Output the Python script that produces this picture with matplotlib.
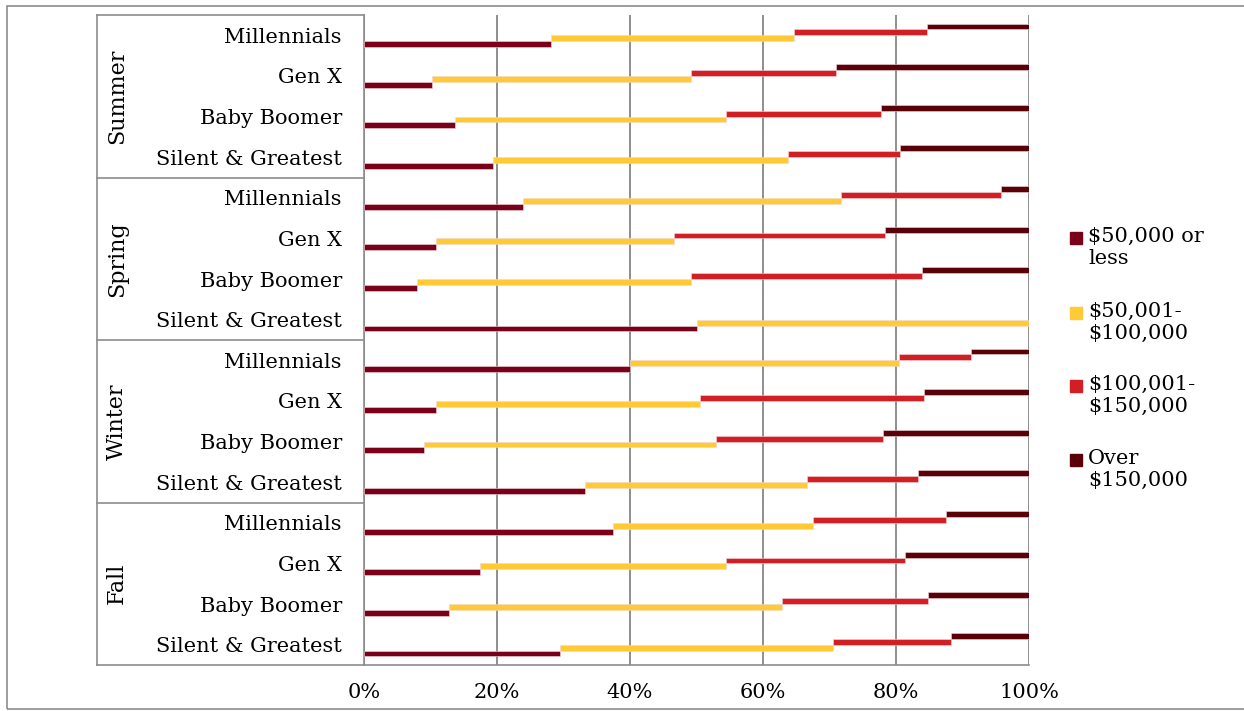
import matplotlib.pyplot as plt
from matplotlib.patches import Rectangle
from matplotlib.lines import Line2D
from matplotlib.transforms import blended_transform_factory
import numpy as np

plt.rcParams['font.family'] = ['DejaVu Serif']

# seasons and generations, top to bottom
seasons = ['Summer', 'Spring', 'Winter', 'Fall']
generations = ['Millennials', 'Gen X', 'Baby Boomer', 'Silent & Greatest']

# share of each income band (%) per season / generation row
under_50k = [28.1, 10.2, 13.7, 19.4,
             23.9, 10.8, 7.9, 50.0,
             40.0, 10.9, 9.0, 33.3,
             37.5, 17.5, 12.8, 29.4]
k50_100 = [36.6, 38.9, 40.8, 44.4,
           47.9, 35.8, 41.2, 50.0,
           40.5, 39.6, 44.0, 33.3,
           30.0, 37.0, 50.0, 41.2]
k100_150 = [20.0, 21.9, 23.3, 16.8,
            24.0, 31.8, 34.8, 0.0,
            10.8, 33.7, 25.0, 16.7,
            20.0, 26.9, 22.0, 17.6]
over_150k = [15.3, 29.0, 22.2, 19.4,
             4.2, 21.6, 16.1, 0.0,
             8.7, 15.8, 22.0, 16.7,
             12.5, 18.6, 15.2, 11.8]

series_names = ['\\$50,000 or\nless', '\\$50,001-\n\\$100,000',
                '\\$100,001-\n\\$150,000', 'Over\n\\$150,000']
colors = ['#7a0019', '#ffca33', '#d11f24', '#5a0009']
fs = 15

W, H = 1244, 711
fig = plt.figure(figsize=(W / 100, H / 100), dpi=100)
ax = fig.add_axes([364 / W, 1 - 665 / H, 665 / W, 650 / H])

n = len(under_50k)
pos = np.arange(n)
data = [under_50k, k50_100, k100_150, over_150k]
offsets = [0.217, 0.072, -0.072, -0.217]
left = np.zeros(n)
for vals, off, c in zip(data, offsets, colors):
    vals = np.array(vals)
    ax.barh(pos + off, vals, left=left, height=0.145, color=c,
            edgecolor='#f2d6da', linewidth=0.4, zorder=3)
    left = left + vals

ax.set_xlim(0, 100)
ax.set_ylim(n - 0.5, -0.5)
ax.set_xticks(np.arange(0, 101, 20))
ax.set_xticklabels([f'{v}%' for v in range(0, 101, 20)], fontsize=fs)
ax.tick_params(axis='x', length=0, pad=13)
ax.set_yticks(pos)
ax.set_yticklabels(generations * len(seasons), fontsize=fs)
ax.tick_params(axis='y', length=0, pad=16)
ax.grid(axis='x', color='#868686', linewidth=1.3, zorder=0)
for s in ['top', 'right']:
    ax.spines[s].set_visible(False)
for s in ['left', 'bottom']:
    ax.spines[s].set_color('#8c8c8c')
    ax.spines[s].set_linewidth(1.2)

# season group box to the left of the category labels
tr = blended_transform_factory(fig.transFigure, ax.transData)
x0, x1 = 97 / W, 364 / W
for b in np.arange(-0.5, n, 4):
    fig.add_artist(Line2D([x0, x1], [b, b], transform=tr,
                          color='#8c8c8c', linewidth=1.2))
fig.add_artist(Line2D([x0, x0], [-0.5, n - 0.5], transform=tr,
                      color='#8c8c8c', linewidth=1.2))
for i, s in enumerate(seasons):
    fig.text(117 / W, 4 * i + 1.5, s, transform=tr, rotation=90,
             ha='center', va='center', fontsize=fs + 1)

# legend drawn by hand so the swatch sits beside the first line
leg_y = [238, 313, 386, 460]
for yy, name, c in zip(leg_y, series_names, colors):
    fig.add_artist(Rectangle((1070 / W, 1 - (yy + 6) / H), 12 / W, 12 / H,
                             transform=fig.transFigure, color=c))
    fig.text(1088 / W, 1 - (yy - 11) / H, name, fontsize=fs, va='top',
             ha='left', linespacing=1.2)

# chart area frame
fig.add_artist(Rectangle((7 / W, 1 - 709 / H), 1300 / W, 703 / H,
                         transform=fig.transFigure, fill=False,
                         edgecolor='#8c8c8c', linewidth=1.2))

fig.savefig('out.png', dpi=100)
